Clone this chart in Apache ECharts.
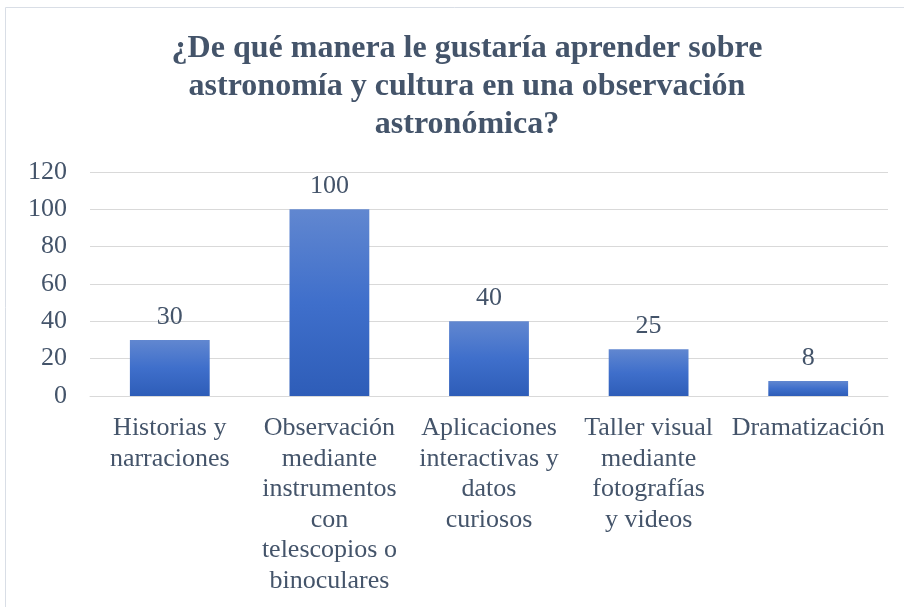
<!DOCTYPE html>
<html><head><meta charset="utf-8">
<script src="https://cdn.jsdelivr.net/npm/echarts@6/dist/echarts.min.js"></script>
<style>html,body{margin:0;padding:0;background:#fff}#c{width:904px;height:607px}</style>
</head><body><div id="c"></div>
<script>
const titleText = '¿De qué manera le gustaría aprender sobre\nastronomía y cultura en una observación\nastronómica?';
const categories = [
  'Historias y\nnarraciones',
  'Observación\nmediante\ninstrumentos\ncon\ntelescopios o\nbinoculares',
  'Aplicaciones\ninteractivas y\ndatos\ncuriosos',
  'Taller visual\nmediante\nfotografías\ny videos',
  'Dramatización'
];
const values = [30, 100, 40, 25, 8];
const yTicks = { min: 0, max: 120, interval: 20 };

const chart = echarts.init(document.getElementById('c'), null, { renderer: 'canvas' });
const serif = '"Liberation Serif", "Times New Roman", serif';
const textColor = '#44546A';
chart.setOption({
  animation: false,
  graphic: [{
    type: 'polyline', shape: { points: [[5.5, 607], [5.5, 7.5], [904, 7.5]] },
    style: { stroke: '#D9DEE6', lineWidth: 1, fill: null }
  }],
  title: {
    text: titleText, left: 462, top: 25, textAlign: 'center',
    textStyle: { fontFamily: serif, fontWeight: 'bold', fontSize: 32, lineHeight: 38, color: textColor }
  },
  grid: { left: 90, right: 16, top: 172, bottom: 211, containLabel: false },
  xAxis: {
    type: 'category', data: categories,
    axisLine: { lineStyle: { color: '#D9D9D9', width: 1 } },
    axisTick: { show: false },
    axisLabel: { interval: 0, margin: 17, fontFamily: serif, fontSize: 26, lineHeight: 30.5, color: textColor, align: 'center', verticalAlign: 'top' }
  },
  yAxis: {
    type: 'value', min: yTicks.min, max: yTicks.max, interval: yTicks.interval,
    axisLine: { show: false }, axisTick: { show: false },
    splitLine: { lineStyle: { color: '#D9D9D9', width: 1 } },
    axisLabel: { margin: 23, fontFamily: serif, fontSize: 26, color: textColor }
  },
  series: [{
    type: 'bar', data: values, barWidth: '50%',
    itemStyle: { color: new echarts.graphic.LinearGradient(0, 0, 0, 1, [
      { offset: 0, color: '#6187D0' }, { offset: 0.5, color: '#3F6FCB' }, { offset: 1, color: '#2E5DB8' }
    ]) },
    label: { show: true, position: 'top', distance: 10, fontFamily: serif, fontSize: 26, color: textColor }
  }]
});
</script></body></html>
